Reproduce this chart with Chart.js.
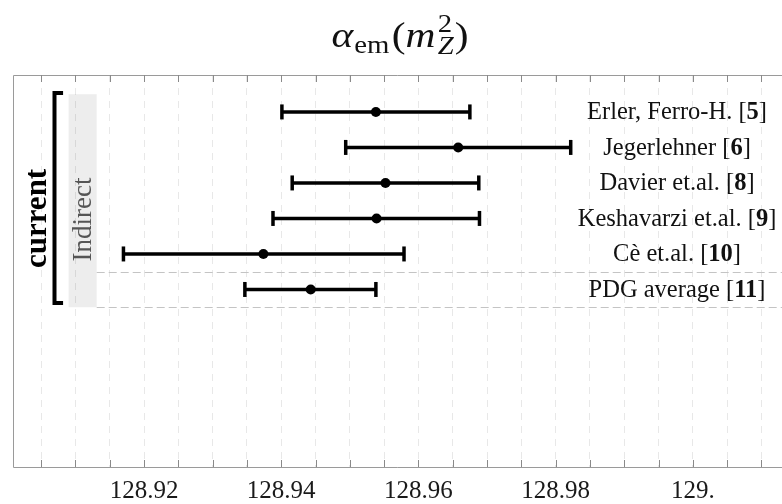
<!DOCTYPE html>
<html>
<head>
<meta charset="utf-8">
<script src="https://cdn.jsdelivr.net/npm/chart.js@4.4.0/dist/chart.umd.min.js"></script>
<style>
  html, body { margin: 0; padding: 0; background: #fff; }
  #wrap { width: 782px; height: 504px; }
</style>
</head>
<body>
<div id="wrap"><canvas id="chart" width="782" height="504"></canvas></div>
<script>
// alpha_em(mZ^2) determinations
const rowNames = ['Erler, Ferro-H.', 'Jegerlehner', 'Davier et.al.', 'Keshavarzi et.al.', 'Cè et.al.', 'PDG average'];
const rowRefs = ['5', '6', '8', '9', '10', '11'];
const rowPositions = [1, 2, 3, 4, 5, 6];
const centralValues = [128.9538, 128.9658, 128.9552, 128.9539, 128.9374, 128.9443];
const lowerErrors = [0.0137, 0.0164, 0.0136, 0.0151, 0.0204, 0.0096];
const upperErrors = [0.0137, 0.0164, 0.0136, 0.0150, 0.0205, 0.0095];

const labelledTicks = [128.92, 128.94, 128.96, 128.98, 129.00];
const sectionLabel = 'current';
const groupLabel = 'Indirect';

const X_MIN = 128.9009;
const X_MAX = 129.0130;
const LABEL_X = 128.9977;

const SERIF = '"Liberation Serif", "DejaVu Serif", serif';

// error bar segments (whisker + caps) and central points
const errorSets = rowNames.map((name, i) => ({
  type: 'line',
  label: name,
  data: [
    { x: centralValues[i] - lowerErrors[i], y: rowPositions[i] },
    { x: centralValues[i] + upperErrors[i], y: rowPositions[i] }
  ],
  showLine: true,
  borderColor: '#000',
  borderWidth: 3.5,
  pointStyle: 'line',
  pointRotation: 90,
  pointRadius: 7.5,
  pointHoverRadius: 7.5,
  pointBorderWidth: 3.5,
  pointBorderColor: '#000'
}));

const centerSet = {
  type: 'scatter',
  label: 'central',
  data: centralValues.map((v, i) => ({ x: v, y: rowPositions[i] })),
  pointRadius: 5,
  pointHoverRadius: 5,
  backgroundColor: '#000',
  borderColor: '#000',
  borderWidth: 0
};

function fmtTick(v) {
  return v.toFixed(2).replace(/0+$/, '');
}

const decorations = {
  id: 'decorations',
  beforeDraw(chart) {
    const ctx = chart.ctx;
    ctx.save();
    ctx.fillStyle = '#fff';
    ctx.fillRect(0, 0, chart.width, chart.height);
    ctx.restore();
  },
  beforeDatasetsDraw(chart) {
    const { ctx, chartArea: a, scales: { x, y } } = chart;
    ctx.save();
    // grey group band
    const bx0 = x.getPixelForValue(128.9090), bx1 = x.getPixelForValue(128.9131);
    const by0 = y.getPixelForValue(0.5), by1 = y.getPixelForValue(6.5);
    ctx.fillStyle = 'rgba(0,0,0,0.07)';
    ctx.fillRect(bx0, by0, bx1 - bx0, by1 - by0);

    // dashed separators around the average
    ctx.strokeStyle = '#c4c4c4';
    ctx.lineWidth = 1;
    ctx.setLineDash([8, 4]);
    [5.5, 6.5].forEach(v => {
      const py = Math.round(y.getPixelForValue(v)) + 0.5;
      ctx.beginPath();
      ctx.moveTo(bx1, py);
      ctx.lineTo(a.right, py);
      ctx.stroke();
    });
    ctx.setLineDash([]);

    // frame: top, left, bottom (right side runs off the canvas)
    ctx.strokeStyle = '#9a9a9a';
    ctx.beginPath();
    ctx.moveTo(a.right, a.top + 0.5);
    ctx.lineTo(a.left + 0.5, a.top + 0.5);
    ctx.lineTo(a.left + 0.5, a.bottom + 0.5);
    ctx.lineTo(a.right, a.bottom + 0.5);
    ctx.stroke();

    // inward ticks top and bottom
    ctx.strokeStyle = '#8a8a8a';
    x.ticks.forEach(t => {
      const px = Math.round(x.getPixelForValue(t.value)) + 0.5;
      ctx.beginPath();
      ctx.moveTo(px, a.bottom);
      ctx.lineTo(px, a.bottom - 7);
      ctx.moveTo(px, a.top);
      ctx.lineTo(px, a.top + 7);
      ctx.stroke();
    });
    ctx.restore();
  },
  afterDatasetsDraw(chart) {
    const { ctx, scales: { x, y } } = chart;
    ctx.save();
    // row labels
    ctx.fillStyle = '#111';
    ctx.textBaseline = 'middle';
    ctx.textAlign = 'left';
    const cx = x.getPixelForValue(LABEL_X);
    rowNames.forEach((name, i) => {
      const py = y.getPixelForValue(rowPositions[i]) + 1;
      const regular = '24.5px ' + SERIF, bold = 'bold 24.5px ' + SERIF;
      const parts = [[name + ' [', regular], [rowRefs[i], bold], [']', regular]];
      let total = 0;
      parts.forEach(p => { ctx.font = p[1]; total += ctx.measureText(p[0]).width; });
      let px = cx - total / 2;
      parts.forEach(p => {
        ctx.font = p[1];
        ctx.fillText(p[0], px, py);
        px += ctx.measureText(p[0]).width;
      });
    });

    // section bracket
    const lx = x.getPixelForValue(128.90695), rx = x.getPixelForValue(128.9082);
    const ty = y.getPixelForValue(0.47), byy = y.getPixelForValue(6.38);
    ctx.strokeStyle = '#000';
    ctx.lineWidth = 4;
    ctx.lineJoin = 'miter';
    ctx.beginPath();
    ctx.moveTo(rx, ty);
    ctx.lineTo(lx, ty);
    ctx.lineTo(lx, byy);
    ctx.lineTo(rx, byy);
    ctx.stroke();

    // rotated texts
    const midY = y.getPixelForValue(4.0);
    ctx.textAlign = 'center';
    ctx.textBaseline = 'middle';
    ctx.save();
    ctx.translate(x.getPixelForValue(128.9045), midY);
    ctx.rotate(-Math.PI / 2);
    ctx.fillStyle = '#000';
    ctx.font = 'bold 31px ' + SERIF;
    ctx.fillText(sectionLabel, 0, 0);
    ctx.restore();

    ctx.save();
    ctx.translate(x.getPixelForValue(128.9112), midY + 1);
    ctx.rotate(-Math.PI / 2);
    ctx.fillStyle = '#555';
    ctx.font = '27px ' + SERIF;
    ctx.fillText(groupLabel, 0, 0);
    ctx.restore();
    ctx.restore();
  },
  afterDraw(chart) {
    // title: alpha_em(m_Z^2), slightly widened to mimic the math font
    const ctx = chart.ctx;
    ctx.save();
    ctx.fillStyle = '#111';
    ctx.textBaseline = 'alphabetic';
    ctx.textAlign = 'left';
    const big = 36, small = 25, stretch = 1.15;
    const pieces = [
      { t: 'α', f: 'italic ' + big + 'px ' + SERIF, dy: 0, post: 1 },
      { t: 'em', f: small + 'px ' + SERIF, dy: 6, post: 1 },
      { t: '(', f: big + 'px ' + SERIF, dy: 0, pre: 1 },
      { t: 'm', f: 'italic ' + big + 'px ' + SERIF, dy: 0, post: 1 },
      { stack: [{ t: '2', f: small + 'px ' + SERIF, dy: -15 }, { t: 'Z', f: 'italic ' + small + 'px ' + SERIF, dy: 7 }] },
      { t: ')', f: big + 'px ' + SERIF, dy: 0, pre: 2 }
    ];
    const widthOf = p => {
      if (p.stack) return Math.max(...p.stack.map(s => { ctx.font = s.f; return ctx.measureText(s.t).width; }));
      ctx.font = p.f;
      return ctx.measureText(p.t).width + (p.pre || 0) + (p.post || 0);
    };
    const total = pieces.reduce((s, p) => s + widthOf(p), 0);
    const base = 47;
    ctx.translate(400 - total * stretch / 2, 0);
    ctx.scale(stretch, 1);
    let px = 0;
    pieces.forEach(p => {
      const w = widthOf(p);
      if (p.stack) {
        p.stack.forEach(s => { ctx.font = s.f; ctx.fillText(s.t, px + 1, base + s.dy); });
      } else {
        ctx.font = p.f;
        ctx.fillText(p.t, px + (p.pre || 0), base + p.dy);
      }
      px += w;
    });
    ctx.restore();
  }
};

new Chart(document.getElementById('chart'), {
  type: 'scatter',
  data: { datasets: [...errorSets, centerSet] },
  options: {
    responsive: false,
    animation: false,
    devicePixelRatio: 1,
    layout: { autoPadding: false, padding: { top: 75, left: 13, right: 0, bottom: 0 } },
    plugins: {
      legend: { display: false },
      title: { display: false },
      tooltip: { enabled: false }
    },
    scales: {
      x: {
        type: 'linear',
        min: X_MIN,
        max: X_MAX,
        afterFit(scale) {
          scale.height = 37;
          scale.paddingLeft = 0;
          scale.paddingRight = 0;
        },
        grid: { color: '#e8e8e8', lineWidth: 1, drawTicks: false },
        border: { display: false, dash: [7, 6] },
        ticks: {
          stepSize: 0.005,
          includeBounds: false,
          autoSkip: false,
          maxRotation: 0,
          padding: 9,
          color: '#1a1a1a',
          font: { family: SERIF, size: 25 },
          callback: (v) => labelledTicks.some(t => Math.abs(t - v) < 1e-6) ? fmtTick(v) : ''
        }
      },
      y: {
        type: 'linear',
        display: false,
        reverse: true,
        min: -0.04,
        max: 11
      }
    }
  },
  plugins: [decorations]
});
</script>
</body>
</html>
